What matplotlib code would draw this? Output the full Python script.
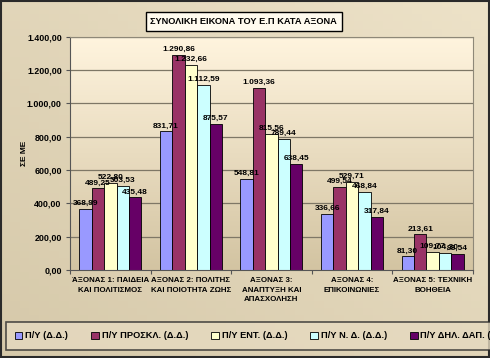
import numpy as np
import matplotlib
matplotlib.use("Agg")
import matplotlib.pyplot as plt
from matplotlib.patches import Rectangle, Patch

plt.rcParams["font.family"] = ["Liberation Sans", "DejaVu Sans"]

# Data (ΣΕ ΜΕ)
categories = [
    "ΆΞΟΝΑΣ 1: ΠΑΙΔΕΙΑ\nΚΑΙ ΠΟΛΙΤΙΣΜΟΣ",
    "ΑΞΟΝΑΣ 2: ΠΟΛΙΤΗΣ\nΚΑΙ ΠΟΙΟΤΗΤΑ ΖΩΗΣ",
    "ΑΞΟΝΑΣ 3:\nΑΝΑΠΤΥΞΗ ΚΑΙ\nΑΠΑΣΧΟΛΗΣΗ",
    "ΑΞΟΝΑΣ 4:\nΕΠΙΚΟΙΝΩΝΙΕΣ",
    "ΑΞΟΝΑΣ 5: ΤΕΧΝΙΚΗ\nΒΟΗΘΕΙΑ",
]
series_names = [
    "Π/Υ (Δ.Δ.)",
    "Π/Υ ΠΡΟΣΚΛ. (Δ.Δ.)",
    "Π/Υ ΕΝΤ. (Δ.Δ.)",
    "Π/Υ Ν. Δ. (Δ.Δ.)",
    "Π/Υ ΔΗΛ. ΔΑΠ. (Δ.Δ.)",
]
py_dd = [368.99, 831.71, 548.81, 336.66, 81.30]
py_proskl = [489.25, 1290.86, 1093.36, 499.54, 213.61]
py_ent = [522.80, 1232.66, 815.56, 529.71, 109.77]
py_nd = [503.53, 1112.59, 789.44, 468.84, 104.30]
py_dil = [435.48, 875.57, 638.45, 317.84, 98.54]
series = [py_dd, py_proskl, py_ent, py_nd, py_dil]
colors = ["#9999FF", "#993366", "#FFFFCC", "#CCFFFF", "#660066"]
yticks = [0, 200, 400, 600, 800, 1000, 1200, 1400]


def gr(v):
    # greek number format 1.234,56
    s = f"{v:,.2f}"
    return s.replace(",", "X").replace(".", ",").replace("X", ".")


fig = plt.figure(figsize=(4.9, 3.58), dpi=100)

# figure background gradient
bg = fig.add_axes([0, 0, 1, 1], zorder=-5)
gx, gy = np.meshgrid(np.linspace(0, 1, 50), np.linspace(0, 1, 50))
g = 0.5 * gx + 0.5 * (1 - gy)
bg.imshow(g, cmap=matplotlib.colors.LinearSegmentedColormap.from_list(
    "b", ["#D6C9AA", "#EDE2C8"]), extent=[0, 1, 0, 1], aspect="auto", origin="upper")
bg.set_xlim(0, 1)
bg.set_ylim(0, 1)
bg.axis("off")
bg.add_patch(Rectangle((0.002, 0.004), 0.996, 0.994, fill=False, ec="#2A2A2A", lw=1.5))

ax = fig.add_axes([0.143, 0.246, 0.822, 0.651])
ax.set_xlim(0, 5)
ax.set_ylim(0, 1400)

# plot area gradient
grad = np.linspace(1, 0, 100).reshape(-1, 1)
ax.imshow(grad, cmap=matplotlib.colors.LinearSegmentedColormap.from_list(
    "p", ["#D3C4A2", "#FFF4DE"]), extent=[0, 5, 0, 1400], aspect="auto",
    origin="upper", zorder=0)

for t in yticks[1:]:
    ax.axhline(t, color="#7E7766", lw=0.9, zorder=1)

w = 0.154
gap = 1 - 5 * w
x = np.arange(5)
for i, (vals, c) in enumerate(zip(series, colors)):
    xs = x + gap / 2 + w * i + w / 2
    ax.bar(xs, vals, width=w, color=c, edgecolor="black", lw=0.6, zorder=2)
    for xi, v in zip(xs, vals):
        ax.text(xi, v + 12, gr(v), ha="center", va="bottom", fontsize=6,
                fontweight="bold", color="black", zorder=3)

ax.set_yticks(yticks)
ax.set_yticklabels([gr(t) for t in yticks], fontsize=6.4, fontweight="bold")
ax.set_xticks(np.arange(6))
ax.set_xticklabels([])
ax.set_xticks(x + 0.5, minor=True)
ax.set_xticklabels(categories, minor=True, fontsize=5.7, fontweight="bold",
                   linespacing=1.55)
ax.tick_params(axis="x", which="minor", length=0, pad=5)
ax.tick_params(axis="x", which="major", length=3, color="#555555")
ax.tick_params(axis="y", length=3, color="#555555", pad=3)
for sp in ["top", "right"]:
    ax.spines[sp].set_color("#8E8878")
for sp in ["left", "bottom"]:
    ax.spines[sp].set_color("#555555")
ax.set_ylabel("ΣΕ ΜΕ", fontsize=6, fontweight="bold")
ax.yaxis.set_label_coords(-0.104, 0.5)

# title box
fig.text(0.497, 0.94, "ΣΥΝΟΛΙΚΗ ΕΙΚΟΝΑ ΤΟΥ Ε.Π ΚΑΤΑ ΑΞΟΝΑ", ha="center", va="center",
         fontsize=6.7, fontweight="bold",
         bbox=dict(boxstyle="square,pad=0.5", fc="#FFFBEF", ec="black", lw=1.0))

# legend
handles = [Patch(facecolor=c, edgecolor="black", lw=0.6) for c in colors]
leg = fig.legend(handles, series_names, loc="lower left", bbox_to_anchor=(0.002, 0.01),
                 ncol=5, frameon=True, handlelength=0.8, handleheight=0.8,
                 handletextpad=0.3, columnspacing=2.5, borderpad=1.0, fancybox=False,
                 prop={"weight": "bold", "size": 6.7})
leg.get_frame().set_edgecolor("#2A2A2A")
leg.get_frame().set_linewidth(1.2)
leg.get_frame().set_facecolor("#E6DAC0")

fig.savefig("out.png", dpi=100)
